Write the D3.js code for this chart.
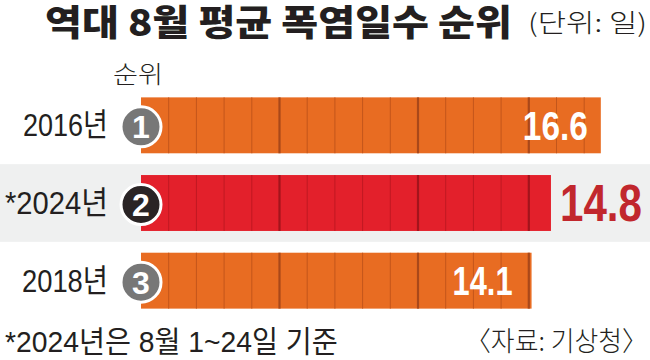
<!DOCTYPE html>
<html><head><meta charset="utf-8">
<script src="https://cdn.jsdelivr.net/npm/d3@7/dist/d3.min.js"></script>
<style>
html,body{margin:0;padding:0;background:#fff;}
svg{display:block;}
</style></head>
<body>
<script>
const years = ["2016년", "*2024년", "2018년"];
const ranks = ["1", "2", "3"];
const values = [16.6, 14.8, 14.1];
const highlight = [false, true, false];
const valueLabels = ["16.6", "14.8", "14.1"];
const majorTicks = [5, 10, 14];
const title = "역대 8월 평균 폭염일수 순위";
const unitLabel = "(단위: 일)";
const rankHeader = "순위";
const footnote = "*2024년은 8월 1~24일 기준";
const source = "〈자료: 기상청〉";

const W = 650, H = 360;
const LAT = "'Liberation Sans','Noto Sans CJK KR',sans-serif";
const KR = "'Noto Sans CJK KR','Noto Sans',sans-serif";

const svg = d3.select("body").append("svg").attr("width", W).attr("height", H);

function fitText(parent, str, x0, y0, width, attrs) {
  const t = parent.append("text").attr("x", 0).attr("y", 0).text(str);
  Object.entries(attrs).forEach(([k, v]) => t.attr(k, v));
  const w = t.node().getComputedTextLength();
  const k = width / w;
  t.attr("transform", `translate(${x0},${y0}) scale(${k},1)`);
  return t;
}

const x = d3.scaleLinear().domain([0, 10]).range([141, 418]);
const y = d3.scaleBand().domain(years).range([86.5, 319.5]).paddingInner(0.28).paddingOuter(0.14);
const step = y.step(), bw = y.bandwidth();
const gap = step - bw;

const yearWidths = [85, 103, 86];
const valueWidths = [65, 82, 60];

years.forEach((yr, i) => {
  if (highlight[i]) {
    svg.append("rect").attr("x", 0).attr("width", W)
      .attr("y", y(yr) - gap / 2).attr("height", step)
      .attr("fill", "#eff0f0");
  }
});

const ink = "#231f20";
fitText(svg, title, 45, 36, 467, {"font-family": KR, "font-weight": 900, "font-size": 36, fill: ink});
fitText(svg, unitLabel, 528, 32, 119, {"font-family": KR, "font-weight": 300, "font-size": 25, fill: ink});
fitText(svg, rankHeader, 113, 83, 50, {"font-family": KR, "font-weight": 300, "font-size": 24, fill: ink});

const g = svg.selectAll("g.row").data(years).enter().append("g").attr("class", "row");

g.each(function (yr, i) {
  const row = d3.select(this);
  const top = y(yr), cy = top + bw / 2;
  const hi = highlight[i];
  const fill = hi ? "#e3202b" : "#e86c22";
  const thin = hi ? "#c01822" : "#c3561b";
  const thick = hi ? "#a3141c" : "#a9481a";
  row.append("rect").attr("x", x(0)).attr("y", top)
    .attr("width", x(values[i]) - x(0)).attr("height", bw).attr("fill", fill);
  const ticks = d3.range(1, Math.floor(values[i]) + 1);
  row.selectAll("line.seg").data(ticks).enter().append("line")
    .attr("x1", d => x(d)).attr("x2", d => x(d))
    .attr("y1", top).attr("y2", top + bw)
    .attr("stroke", d => majorTicks.includes(d) ? thick : thin)
    .attr("stroke-width", d => majorTicks.includes(d) ? 2.2 : 1);
  fitText(row, yr, 108 - yearWidths[i], cy + 11, yearWidths[i],
    {"font-family": LAT, "font-size": 32, fill: ink});
  row.append("circle").attr("cx", x(0)).attr("cy", cy + 1.5).attr("r", 20)
    .attr("fill", hi ? "#2a2425" : "#777777").attr("stroke", "#fff").attr("stroke-width", 3);
  row.append("text").attr("x", x(0)).attr("y", cy + 13).attr("text-anchor", "middle")
    .attr("font-family", LAT).attr("font-weight", 700)
    .attr("font-size", 32).attr("fill", "#fff").text(ranks[i]);
  if (hi) {
    fitText(row, valueLabels[i], x(values[i]) + 9, cy + 18, valueWidths[i],
      {"font-family": LAT, "font-weight": 700, "font-size": 51, fill: "#c1272d"});
  } else {
    const off = i === 0 ? 13 : 19;
    fitText(row, valueLabels[i], x(values[i]) - off - valueWidths[i], cy + 14.5, valueWidths[i],
      {"font-family": LAT, "font-weight": 700, "font-size": i === 0 ? 40 : 41, fill: "#fff"});
  }
});

fitText(svg, footnote, 5, 352, 333, {"font-family": LAT, "font-size": 30, fill: ink});
fitText(svg, source, 465, 351, 183, {"font-family": KR, "font-weight": 300, "font-size": 27, fill: ink});
</script>
</body></html>
